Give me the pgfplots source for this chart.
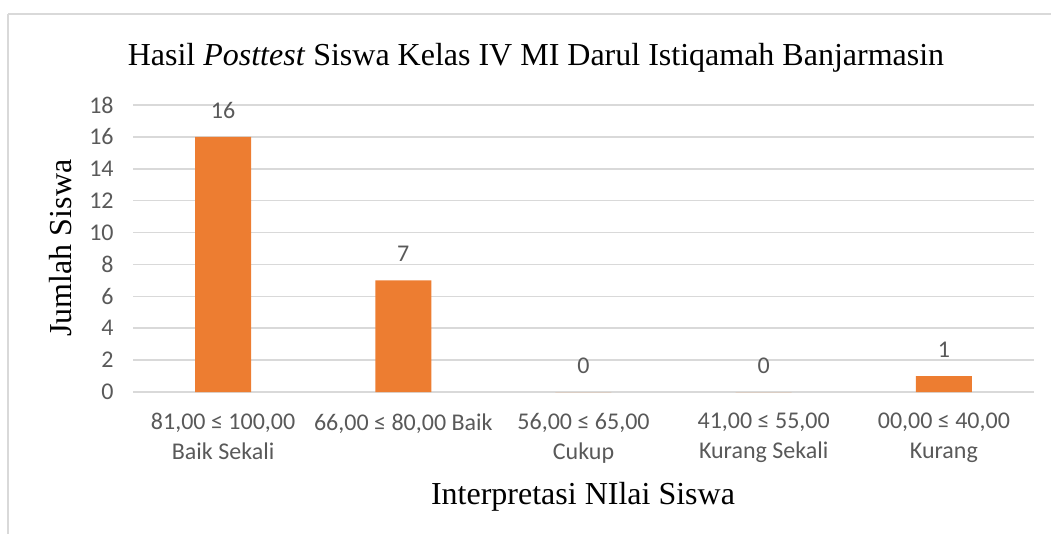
\documentclass[border=0pt]{standalone}
\usepackage{pgfplots}
\pgfplotsset{compat=1.18}
\usepackage{fontspec}
\setmainfont{Liberation Serif}
\newfontfamily\calfont{Carlito}
\definecolor{barorange}{HTML}{ED7D31}
\definecolor{gridgray}{HTML}{D9D9D9}
\definecolor{txtgray}{HTML}{595959}
\begin{document}
\begin{tikzpicture}[x=0.75pt,y=0.75pt]
\draw[gridgray,line width=1.5pt] (8,-14) -- (1070,-14);
\draw[gridgray,line width=1.5pt] (8,-14) -- (8,-560);
\begin{axis}[
  at={(99.75pt,-294pt)}, anchor=south west,
  scale only axis, width=675.75pt, height=215.25pt,
  xmin=-0.5, xmax=4.5, ymin=0, ymax=18,
  ytick={0,2,...,18},
  xtick={0,1,2,3,4},
  xticklabels={{81,00 ≤ 100,00\\Baik Sekali},{66,00 ≤ 80,00 Baik},{56,00 ≤ 65,00\\Cukup},{41,00 ≤ 55,00\\Kurang Sekali},{00,00 ≤ 40,00\\Kurang}},
  x tick label style={font=\calfont\fontsize{18}{22.5}\selectfont, text=txtgray, align=center, yshift=-12.5pt, anchor=north},
  y tick label style={font=\calfont\fontsize{18}{21.75}\selectfont, text=txtgray, xshift=-11pt},
  /pgf/number format/assume math mode=true,
  major tick length=0pt,
  ymajorgrids, grid style={gridgray, line width=1.2pt},
  axis x line*=bottom, axis y line*=left,
  x axis line style={gridgray, line width=1.2pt, -},
  y axis line style={draw=none},
  ybar, bar width=42pt,
  nodes near coords,
  every node near coord/.append style={font=\calfont\fontsize{18}{21}\selectfont, text=txtgray, yshift=10.5pt},
  clip=false,
]
\addplot[fill=barorange, draw=none] coordinates {(0,16) (1,7) (2,0) (3,0) (4,1)};
\end{axis}
\node[anchor=base, font=\fontsize{24}{28}\selectfont] at (536,-65) {Hasil \textit{Posttest} Siswa Kelas IV MI Darul Istiqamah Banjarmasin};
\node[anchor=base, font=\fontsize{24}{28}\selectfont] at (583,-504) {Interpretasi NIlai Siswa};
\node[anchor=base, rotate=90, font=\fontsize{24}{28}\selectfont] at (71,-248) {Jumlah Siswa};
\pgfresetboundingbox
\useasboundingbox (0,0) rectangle (1051,-533);
\end{tikzpicture}
\end{document}
